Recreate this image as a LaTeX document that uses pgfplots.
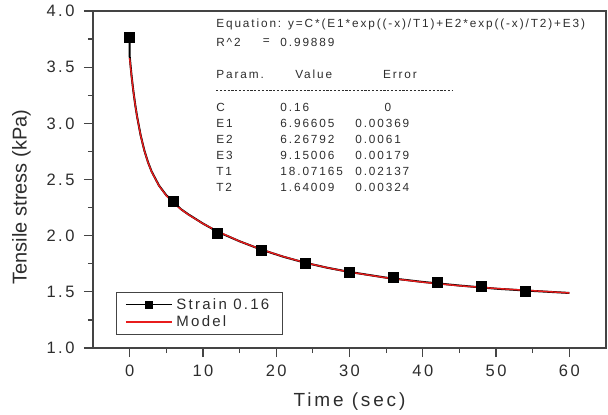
\documentclass[border=0pt]{standalone}
\usepackage{fontspec}
\setmainfont{Liberation Sans}
\newfontfamily\spc[LetterSpace=15]{Liberation Sans}
\newfontfamily\spcb[LetterSpace=16]{Liberation Sans}
\usepackage{pgfplots}
\pgfplotsset{compat=1.18}
\definecolor{axgray}{RGB}{68,68,68}
\definecolor{txt}{RGB}{45,45,45}
\definecolor{fitred}{RGB}{232,28,28}

\pgfplotstableread{
x y
0 3.766
0 3.600
0.25 3.430
0.5 3.290
0.75 3.170
1 3.066
1.5 2.894
2 2.760
2.5 2.655
3 2.571
4 2.447
5 2.360
6 2.300
7 2.236
8 2.190
10 2.108
12 2.035
15 1.950
18 1.875
21 1.812
24 1.758
27 1.714
30 1.677
35 1.626
40 1.588
45 1.556
50 1.528
55 1.508
60 1.490
}\strain

\pgfplotstableread{
x y
0 3.766
6 2.308
12 2.020
18 1.872
24 1.754
30 1.679
36 1.629
42 1.582
48 1.546
54 1.505
}\marks

% fitted model
\pgfplotstableread{
x y
0 3.581
0.25 3.424
0.5 3.288
0.75 3.168
1 3.064
1.5 2.892
2 2.758
2.5 2.653
3 2.569
4 2.445
5 2.357
6 2.290
7 2.235
8 2.188
10 2.107
12 2.039
15 1.950
18 1.876
21 1.813
24 1.759
27 1.714
30 1.676
35 1.625
40 1.586
45 1.554
50 1.530
55 1.510
60 1.490
}\model

\newcommand{\annfont}{\spcb\fontsize{11.8}{14}\selectfont}
\newcommand{\ann}[3]{\node[anchor=west,inner sep=0pt,text=txt,font=\annfont] at (rel axis cs:#1,#2) {#3};}

\begin{document}
\begin{tikzpicture}
\begin{axis}[
 at={(0pt,0pt)},anchor=south west,scale only axis,width=513pt,height=337pt,
 xmin=-5,xmax=65,ymin=1,ymax=4,
 xtick={0,10,...,60},minor xtick={5,15,...,55},
 ytick={1,1.5,...,4},minor ytick={1.25,1.75,...,3.75},
 xtick pos=left,ytick pos=left,tick align=outside,
 major tick length=9pt,minor tick length=5pt,
 axis line style={draw=axgray,line width=1.3pt},
 every tick/.style={draw=axgray,line width=1.2pt},
 /pgf/number format/assume math mode=true,
 tick label style={font=\spc\fontsize{16.5}{18}\selectfont,text=txt},
 xticklabel style={yshift=-4pt},
 yticklabel style={xshift=-6pt,/pgf/number format/.cd,fixed,fixed zerofill,precision=1},
 xlabel={Time (sec)},ylabel={Tensile stress (kPa)},
 xlabel style={font=\spc\fontsize{19}{21}\selectfont,text=txt,yshift=-10pt},
 ylabel style={font=\fontsize{20}{22}\selectfont,text=txt,at={(ticklabel cs:0.448)},yshift=9pt},
 legend style={at={(rel axis cs:0.044,0.039)},anchor=south west,draw=axgray,line width=1pt,
   font=\spc\fontsize{15}{17}\selectfont,text=txt,inner xsep=9pt,inner ysep=4pt,row sep=1pt,
   nodes={inner xsep=4pt}},
 legend cell align=left,
 legend image code/.code={\draw[mark repeat=2,mark phase=2,#1] plot coordinates {(0pt,0pt) (23pt,0pt) (46pt,0pt)};},
]
\addplot[black,line width=2pt,forget plot] table[x=x,y=y] {\strain};
\addplot[only marks,mark=square*,mark size=5pt,black,forget plot] table[x=x,y=y] {\marks};
\addlegendimage{black,line width=1.3pt,mark=square*,mark size=3.5pt}
\addlegendentry{Strain 0.16}
\addplot[fitred,line width=1.4pt] table[x=x,y=y] {\model};
\addlegendentry{Model}

\ann{0.240}{0.961}{Equation: y=C*(E1*exp((-x)/T1)+E2*exp((-x)/T2)+E3)}
\ann{0.240}{0.908}{R\textasciicircum 2}
\ann{0.331}{0.908}{=}
\ann{0.365}{0.908}{0.99889}
\ann{0.240}{0.813}{Param.}
\ann{0.394}{0.813}{Value}
\ann{0.565}{0.813}{Error}
\draw[txt,line width=0.9pt,dash pattern=on 2.2pt off 1.6pt] (rel axis cs:0.240,0.763) -- (rel axis cs:0.702,0.763);
\ann{0.240}{0.715}{C}    \ann{0.365}{0.715}{0.16}     \node[inner sep=0pt,text=txt,font=\annfont] at (rel axis cs:0.575,0.715) {0};
\ann{0.240}{0.6675}{E1}  \ann{0.365}{0.6675}{6.96605} \ann{0.511}{0.6675}{0.00369}
\ann{0.240}{0.620}{E2}   \ann{0.365}{0.620}{6.26792}  \ann{0.511}{0.620}{0.0061}
\ann{0.240}{0.5725}{E3}  \ann{0.365}{0.5725}{9.15006} \ann{0.511}{0.5725}{0.00179}
\ann{0.240}{0.525}{T1}   \ann{0.365}{0.525}{18.07165} \ann{0.511}{0.525}{0.02137}
\ann{0.240}{0.4775}{T2}  \ann{0.365}{0.4775}{1.64009} \ann{0.511}{0.4775}{0.00324}
\end{axis}
\pgfresetboundingbox
\path (-93pt,-67pt) rectangle (515pt,348pt);
\end{tikzpicture}
\end{document}
